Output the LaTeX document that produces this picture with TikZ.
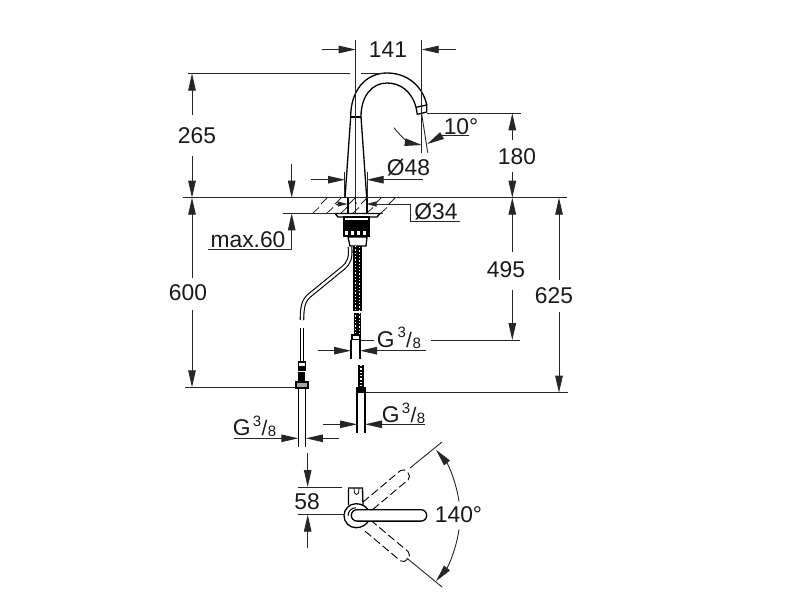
\documentclass[tikz,border=0pt]{standalone}
\usepackage{fontspec}
\setmainfont{Liberation Sans}
\usetikzlibrary{arrows.meta}
\tikzset{
  ln/.style={line width=0.9pt,draw=black!85},
  partline/.style={line width=1.3pt,draw=black},
  tip/.style={-{Triangle[length=17pt,width=7.5pt]}},
  arr/.style={ln,tip},
  txt/.style={inner sep=0pt,font=\fontsize{22.8}{26}\selectfont,text=black!90},
  smalltxt/.style={inner sep=0pt,font=\fontsize{15}{17}\selectfont,text=black!90},
  slashtxt/.style={inner sep=0pt,font=\fontsize{21}{24}\selectfont,text=black!90},
  hatchline/.style={line width=0.8pt,draw=black!85},
  braid/.style={line width=1.2pt,draw=white,dash pattern=on 1.3pt off 2pt},
  dashpart/.style={line width=0.9pt,draw=black,dash pattern=on 8pt off 3.5pt}
}
\begin{document}
\begin{tikzpicture}[x=1pt,y=-1pt]
\useasboundingbox (0,0) rectangle (800,600);
\fill[white] (0,0) rectangle (800,600);
% datum lines
\draw[ln] (183,197.7) -- (567,197.7);
\draw[ln] (283,213.3) -- (345,213.3);
\draw[ln] (366,213.3) -- (383,213.3);
% hatching
\foreach \x in {316,330,344}{\draw[hatchline] (\x-3,213) -- (\x+3,207.5);\draw[hatchline] (\x+5,204) -- (\x+11,198);}
\foreach \x in {368,382,396}{\draw[hatchline] (\x-15,213) -- (\x-9,207.5);\draw[hatchline] (\x-7,204) -- (\x-1,198);}
% faucet
\draw[partline] (345,197.7) -- (350.7,116.7) .. controls (350.7,90) and (366,73) .. (387,73) .. controls (408,73) and (423,87) .. (426.7,105);
\draw[partline] (366.7,197.7) -- (361,116.7) .. controls (361,96) and (372,83) .. (387,83) .. controls (401,83) and (412,92) .. (416,107.3);
\draw[line width=1.8pt] (350.7,116.7) -- (361,116.7);
\draw[partline] (416,107.3) -- (426.7,105) -- (426.7,112) -- (417.3,114.3) -- cycle;
% centre & extension
\draw[ln] (355.7,40) -- (355.7,213);
\draw[ln] (421.7,40) -- (421.7,153);
\draw[ln] (421.7,114) -- (427.7,152.7);
\fill (355.7,203) circle (1.1pt);
% 141
\draw[arr] (322,49.5) -- (355.7,49.5);
\draw[arr] (456,49.5) -- (421.7,49.5);
\node[txt] (d141) at (388,50) {141};
% 265 top line
\draw[ln] (188,73.5) -- (350,73.5);
\draw[ln] (361,73.5) -- (384,73.5);
\draw[arr] (192,115) -- (192,73.5);
\draw[arr] (192,156) -- (192,197.7);
\node[txt] (d265) at (197,136) {265};
% 10 deg
\draw[ln,tip] (394,127.7) .. controls (400,136) and (410,143) .. (421.7,145);
\draw[ln] (469.3,135) -- (443,135);
\draw[ln,tip] (443,135) -- (427.3,144);
\node[txt] (d10) at (461,126.5) {10°};
% 180
\draw[ln] (427,113.3) -- (520.7,113.3);
\draw[arr] (512.3,140) -- (512.3,113.3);
\draw[arr] (512.3,171.5) -- (512.3,197.7);
\node[txt] (d180) at (517,157) {180};
% 48
\draw[ln] (344.5,172) -- (344.5,197);
\draw[ln] (367,172) -- (367,197);
\draw[arr] (310.7,179.7) -- (345,179.7);
\draw[arr] (423,179.7) -- (366.7,179.7);
\node[txt] (d48) at (408.5,168) {Ø48};
% hole and 34
\draw[partline] (348,197.7) -- (348,213);
\draw[partline] (367,197.7) -- (367,213);
\draw[ln,-{Triangle[length=10pt,width=5pt]}] (336,204) -- (347.5,204);
\draw[ln,-{Triangle[length=10pt,width=5pt]}] (378,204) -- (366.5,204);
\draw[ln] (378,204) -- (410,204) -- (410,221.7) -- (460,221.7);
\node[txt] (d34) at (436,212) {Ø34};
% max.60
\draw[arr] (291.7,164) -- (291.7,197.7);
\draw[arr] (291.7,249.3) -- (291.7,213.3);
\draw[ln] (291.7,249.3) -- (208,249.3);
\node[txt] (dmax) at (248,240) {max.60};
% flange / threads
\draw[partline,fill=white] (335,213.5) -- (380,213.5) -- (377,217) -- (338,217) -- cycle;
\draw[partline,fill=white] (344,217) rectangle (369,221);
\fill[black] (343,221) rectangle (370,237);
\draw[partline,fill=white] (348,237) -- (367,237) -- (366,246) -- (350,246) -- cycle;
\foreach \x in {346.5,352.5,358.5,364.5}{\fill[white] (\x-1.7,231) rectangle (\x+1.7,235);}
% braided hose
\fill[black] (353,246) rectangle (362,313);
\fill[black] (354,313) rectangle (361,334);
\draw[braid] (355.5,246) -- (355.5,334);
\draw[braid] (359.5,247) -- (359.5,334);
\fill[white] (352,310.5) rectangle (363,312.5);
\fill[black] (351,334) rectangle (361,340);
\fill[white] (353,336) rectangle (359,339);
% copper tube
\draw[line width=4.6pt,draw=black] (350,247) .. controls (351,258) and (349,263) .. (343,268) -- (310,295) .. controls (304,300) and (302,305) .. (302,320);
\draw[line width=2.4pt,draw=white] (350,247) .. controls (351,258) and (349,263) .. (343,268) -- (310,295) .. controls (304,300) and (302,305) .. (302,320);
\draw[line width=4.4pt,draw=black] (302,328) -- (302,362);
\draw[line width=2.2pt,draw=white] (302,328) -- (302,362);
% left fitting
\draw[partline,fill=white] (298.5,362) rectangle (305.5,370);
\fill[black] (298,366) rectangle (306,369);
\fill[black] (297.5,372) rectangle (304.5,382);
\draw[partline,fill=black!35] (296,382) rectangle (308,388);
\draw[partline] (298.5,388) -- (298.5,447);
\draw[partline] (305.7,388) -- (305.7,447);
\draw[ln] (185,387.3) -- (296,387.3);
% 600
\draw[arr] (192,278) -- (192,197.7);
\draw[arr] (192,310) -- (192,387.3);
\node[txt] (d600) at (188,293) {600};
% G 3/8 left
\draw[ln] (234,438.3) -- (280,438.3);
\draw[arr] (268,438.3) -- (298.3,438.3);
\draw[arr] (339,438.3) -- (305.9,438.3);
\node[txt] (gl) at (241.7,428) {G};
\node[smalltxt] (gl3) at (257,421) {3};
\node[slashtxt] (gls) at (264.5,428) {/};
\node[smalltxt] (gl8) at (272,431.5) {8};
% hose 2 G 3/8
\draw[partline] (351,340) -- (351,359);
\draw[partline] (360,340) -- (360,359);
\draw[ln] (361,340) -- (374,340);
\draw[ln] (431,340) -- (520,340);
\draw[ln] (400,350.7) -- (426,350.7);
\draw[arr] (317.7,350.7) -- (351,350.7);
\draw[arr] (400,350.7) -- (360,350.7);
\node[txt] (gm) at (385.7,340) {G};
\node[smalltxt] (gm3) at (401.7,332) {3};
\node[slashtxt] (gms) at (409,340) {/};
\node[smalltxt] (gm8) at (416.7,343) {8};
% hose lower
\fill[black] (358,365) rectangle (364,388);
\draw[braid] (361,365) -- (361,388);
\fill[black] (356,387) rectangle (366,393);
\draw[partline] (357,393) -- (357,433);
\draw[partline] (365,393) -- (365,433);
\draw[ln] (366,392.7) -- (568,392.7);
% 625
\draw[arr] (559,280) -- (559,197.7);
\draw[arr] (559,312) -- (559,392.7);
\node[txt] (d625) at (554,296) {625};
% 495
\draw[arr] (512.3,252) -- (512.3,197.7);
\draw[arr] (512.3,290) -- (512.3,340);
\node[txt] (d495) at (506,270) {495};
% G 3/8 lower right
\draw[arr] (323,424.3) -- (357,424.3);
\draw[arr] (425,424.3) -- (365,424.3);
\node[txt] (gr) at (390.7,415) {G};
\node[smalltxt] (gr3) at (406,408) {3};
\node[slashtxt] (grs) at (413.5,415) {/};
\node[smalltxt] (gr8) at (421,418) {8};
% top view
\draw[partline,fill=white] (348.5,505) -- (348.5,488) -- (362.5,488) -- (363,505);
\draw[ln] (354,488) -- (354.5,493) .. controls (355,495) and (358,495) .. (358.5,493) -- (359,488);
\begin{scope}[shift={(356,515.7)}]
 \foreach \a in {-40,40}{
  \begin{scope}[rotate=\a]
   \draw[dashpart] (14,-6) -- (63,-6) .. controls (69,-6) and (69,6) .. (63,6) -- (14,6);
  \end{scope}}
 \draw[partline,fill=white] (0,-12) arc (-90:-270:12) (0,12) .. controls (6,12) and (10,9) .. (12,6);
 \draw[partline] (0,-12) .. controls (6,-12) and (10,-9) .. (12,-6);
 \draw[partline,fill=white] (1,-6) -- (65,-6) arc (-90:90:5.7) -- (1,5.4) arc (90:270:5.7) -- cycle;
 \draw[line width=1pt,draw=black] (-8,0) arc (180:270:8);
\end{scope}
\draw[ln] (410,468) -- (442,442);
\draw[ln] (406.7,558) -- (442,587);
% 58
\draw[ln] (298,487) -- (342,487);
\draw[ln] (298,514.7) -- (345,514.7);
\draw[arr] (307.7,453) -- (307.7,487);
\draw[arr] (307.7,548) -- (307.7,514.7);
\node[txt] (d58) at (307,502) {58};
% 140
\draw[ln,tip] (459,501.5) arc (-8:-39.8:103);
\draw[ln,tip] (459,529.5) arc (8:39.8:103);
\node[txt] (d140) at (458.5,515) {140°};
\end{tikzpicture}
\end{document}
